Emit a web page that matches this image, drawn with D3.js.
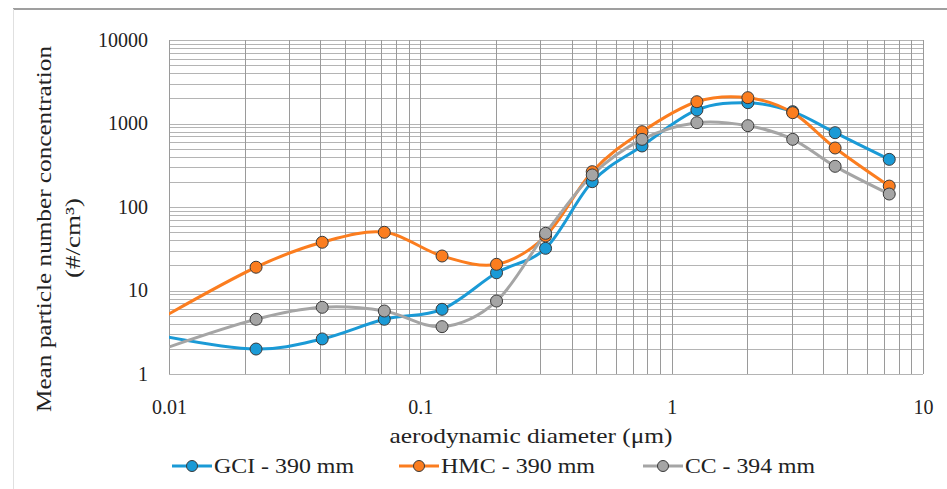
<!DOCTYPE html>
<html>
<head>
<meta charset="utf-8">
<script src="https://cdn.jsdelivr.net/npm/d3@7"></script>
<style>
  body { margin: 0; background: #fff; }
  svg { display: block; font-family: "Liberation Serif", "DejaVu Serif", serif; }
</style>
</head>
<body>
<div id="stage"></div>
<script>
// particle size bins (um) and mean number concentration (#/cm3)
const diameters = [0.0096, 0.0222, 0.0407, 0.0719, 0.122, 0.201, 0.315, 0.483, 0.762, 1.26, 2.01, 3.03, 4.47, 7.34];
const gci = [2.82, 1.99, 2.63, 4.52, 5.95, 16.3, 32.0, 201, 538, 1452, 1775, 1386, 776, 372];
const hmc = [4.9, 19.0, 37.8, 49.8, 25.9, 20.6, 45, 265, 798, 1824, 2038, 1348, 509, 178];
const cc = [2.02, 4.52, 6.29, 5.68, 3.69, 7.48, 48.4, 242, 646, 1023, 942, 646, 307, 143];
const seriesNames = ['GCI - 390 mm', 'HMC - 390 mm', 'CC - 394 mm'];
const xTicks = [0.01, 0.1, 1, 10];
const yTicks = [1, 10, 100, 1000, 10000];

const width = 947;
const height = 489;
const margin = { top: 40, right: 24, bottom: 115, left: 169 };

const svg = d3.select('#stage').append('svg')
  .attr('width', width)
  .attr('height', height);

// outer frame
svg.append('line')
  .attr('x1', 13).attr('x2', width).attr('y1', 9).attr('y2', 9)
  .attr('stroke', '#7f7f7f').attr('stroke-width', 1.5);
svg.append('line')
  .attr('x1', 13.5).attr('x2', 13.5).attr('y1', 9).attr('y2', height)
  .attr('stroke', '#e0e0e0').attr('stroke-width', 1);

const x = d3.scaleLog()
  .domain([0.01, 10])
  .range([margin.left, width - margin.right]);

const y = d3.scaleLog()
  .domain([1, 10000])
  .range([height - margin.bottom, margin.top]);

// minor + major grid
const xGrid = [];
const yGrid = [];
for (let e = -2; e < 1; e++) {
  for (let k = 1; k <= 9; k++) xGrid.push(k * Math.pow(10, e));
}
xGrid.push(10);
for (let e = 0; e < 4; e++) {
  for (let k = 1; k <= 9; k++) yGrid.push(k * Math.pow(10, e));
}
yGrid.push(10000);

const grid = svg.append('g').attr('shape-rendering', 'crispEdges');
grid.selectAll('.hg')
  .data(yGrid)
  .enter()
  .append('line')
  .attr('x1', x.range()[0])
  .attr('x2', x.range()[1])
  .attr('y1', (d) => Math.round(y(d)) + 0.5)
  .attr('y2', (d) => Math.round(y(d)) + 0.5)
  .attr('stroke', '#b4b4b4')
  .attr('stroke-width', 1);
grid.selectAll('.vg')
  .data(xGrid)
  .enter()
  .append('line')
  .attr('x1', (d) => Math.round(x(d)) + 0.5)
  .attr('x2', (d) => Math.round(x(d)) + 0.5)
  .attr('y1', y.range()[1])
  .attr('y2', y.range()[0])
  .attr('stroke', '#9a9a9a')
  .attr('stroke-width', 1);

// axes (labels only, lines drawn by grid)
const xAxis = svg.append('g')
  .attr('transform', `translate(0,${y.range()[0]})`)
  .call(d3.axisBottom(x).tickValues(xTicks).tickFormat(d3.format('~g')).tickSize(0).tickPadding(26));
const yAxis = svg.append('g')
  .attr('transform', `translate(${x.range()[0]},0)`)
  .call(d3.axisLeft(y).tickValues(yTicks).tickFormat(d3.format('d')).tickSize(0).tickPadding(21));
[xAxis, yAxis].forEach((a) => {
  a.select('.domain').remove();
  a.selectAll('text')
    .attr('font-family', '"Liberation Serif", serif')
    .attr('font-size', 20)
    .attr('fill', '#222');
});

// series
const series = [
  { name: seriesNames[0], values: gci, color: '#1a9ad6' },
  { name: seriesNames[1], values: hmc, color: '#fb7d1f' },
  { name: seriesNames[2], values: cc, color: '#a5a5a5' },
];

svg.append('clipPath').attr('id', 'plotclip')
  .append('rect')
  .attr('x', x.range()[0]).attr('y', y.range()[1])
  .attr('width', x.range()[1] - x.range()[0])
  .attr('height', y.range()[0] - y.range()[1]);

const line = d3.line()
  .x((d) => x(d[0]))
  .y((d) => y(d[1]))
  .curve(d3.curveCardinal.tension(0));

const plot = svg.append('g').attr('clip-path', 'url(#plotclip)');
series.forEach((s) => {
  const pts = diameters.map((d, i) => [d, s.values[i]]);
  plot.append('path')
    .datum(pts)
    .attr('d', line)
    .attr('fill', 'none')
    .attr('stroke', s.color)
    .attr('stroke-width', 3);
});
series.forEach((s) => {
  const pts = diameters.map((d, i) => [d, s.values[i]]).filter((p) => p[0] >= 0.01);
  svg.append('g').selectAll('circle')
    .data(pts)
    .enter()
    .append('circle')
    .attr('cx', (d) => x(d[0]))
    .attr('cy', (d) => y(d[1]))
    .attr('r', 6)
    .attr('fill', s.color)
    .attr('stroke', '#3a3a3a')
    .attr('stroke-width', 1);
});

// axis titles (stretched a bit: the original font is wider than Times)
svg.append('text')
  .attr('x', 531)
  .attr('y', 443)
  .attr('text-anchor', 'middle')
  .attr('font-size', 21)
  .attr('fill', '#222')
  .attr('textLength', 283)
  .attr('lengthAdjust', 'spacingAndGlyphs')
  .text('aerodynamic diameter (μm)');

svg.append('text')
  .attr('transform', 'translate(51,229) rotate(-90)')
  .attr('text-anchor', 'middle')
  .attr('font-size', 21)
  .attr('fill', '#222')
  .attr('textLength', 366)
  .attr('lengthAdjust', 'spacingAndGlyphs')
  .text('Mean particle number concentration');
svg.append('text')
  .attr('transform', 'translate(80,238) rotate(-90)')
  .attr('text-anchor', 'middle')
  .attr('font-size', 21)
  .attr('fill', '#222')
  .attr('textLength', 80)
  .attr('lengthAdjust', 'spacingAndGlyphs')
  .text('(#/cm³)');

// legend
const legendX = [172, 399, 643];
const legendLen = [140, 154, 130];
const legend = svg.append('g');
series.forEach((s, i) => {
  const g = legend.append('g').attr('transform', `translate(${legendX[i]},466)`);
  g.append('line').attr('x1', 0).attr('x2', 40).attr('y1', 0).attr('y2', 0)
    .attr('stroke', s.color).attr('stroke-width', 3);
  g.append('circle').attr('cx', 20).attr('cy', 0).attr('r', 5.5)
    .attr('fill', s.color).attr('stroke', '#3a3a3a').attr('stroke-width', 1);
  g.append('text').attr('x', 42).attr('y', 7)
    .attr('font-size', 21).attr('fill', '#222')
    .attr('textLength', legendLen[i])
    .attr('lengthAdjust', 'spacingAndGlyphs')
    .text(s.name);
});
</script>
</body>
</html>
